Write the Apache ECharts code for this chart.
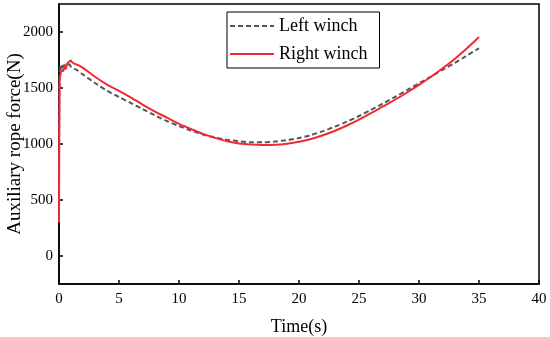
<!DOCTYPE html>
<html><head><meta charset="utf-8">
<script src="https://cdn.jsdelivr.net/npm/echarts@6/dist/echarts.min.js"></script>
<style>html,body{margin:0;padding:0;background:#fff}#c{width:550px;height:337px}</style>
</head><body><div id="c"></div>
<script>
var timeLeft = [0,0.05,0.15,0.25,0.35,0.45,0.55,0.7,0.85,1,1.5,2,3,4,5,6,7,8,9,10,11,12,13,14,15,16,17,18,19,20,21,22,23,24,25,26,27,28,29,30,31,32,33,34,35];
var leftWinch = [500,1600,1705,1680,1720,1690,1710,1700,1712,1690,1660,1620,1545,1475,1420,1365,1310,1255,1205,1160,1120,1085,1058,1038,1024,1016,1015,1022,1035,1053,1080,1115,1155,1200,1250,1305,1362,1420,1480,1542,1602,1665,1725,1790,1855];
var timeRight = [0,0.05,0.15,0.25,0.35,0.45,0.55,0.7,0.85,0.97,1.1,1.3,1.6,2,3,4,5,6,7,8,9,10,11,12,13,14,15,16,17,18,19,20,21,22,23,24,25,26,27,28,29,30,31,32,33,34,35];
var rightWinch = [300,1550,1640,1660,1650,1690,1670,1720,1735,1745,1730,1715,1705,1680,1600,1530,1475,1415,1350,1290,1235,1180,1135,1090,1055,1025,1005,995,991,993,1003,1020,1045,1078,1118,1165,1218,1275,1335,1395,1460,1528,1600,1678,1762,1855,1955];
var xTicks = [0,5,10,15,20,25,30,35,40];
var yTicks = [0,500,1000,1500,2000];
var xTitle = 'Time(s)';
var yTitle = 'Auxiliary rope force(N)';

function pairs(t, v){ return t.map(function(x,i){ return [x, v[i]]; }); }
var font = 'Liberation Serif';
var chart = echarts.init(document.getElementById('c'));
chart.setOption({
  animation: false,
  backgroundColor: '#fff',
  grid: {left: 59, right: 11, top: 4, bottom: 53, show: true, borderColor: '#000', borderWidth: 1.5, containLabel: false, outerBoundsMode: 'none'},
  graphic: [{
    type: 'text', x: 15, y: 144, rotation: Math.PI / 2,
    style: {text: yTitle, fontFamily: font, fontSize: 19, fill: '#000', align: 'center', verticalAlign: 'middle'}
  }],
  legend: {
    orient: 'vertical', left: 227, top: 12,
    borderColor: '#000', borderWidth: 1, padding: [5, 12, 5, 2],
    itemWidth: 44, itemHeight: 12, itemGap: 10,
    itemStyle: {opacity: 0},
    textStyle: {fontFamily: font, fontSize: 18, color: '#000'},
    data: ['Left winch', 'Right winch']
  },
  xAxis: {
    type: 'value', min: 0, max: 40, interval: 5,
    name: xTitle, nameLocation: 'middle', nameGap: 34,
    nameTextStyle: {fontFamily: font, fontSize: 18, color: '#000'},
    axisLine: {show: true, onZero: false, lineStyle: {color: '#000', width: 1.5}},
    axisTick: {show: true, inside: true, length: 4, lineStyle: {color: '#000', width: 1.5}, customValues: xTicks},
    axisLabel: {fontFamily: font, fontSize: 15, color: '#000', margin: 8, customValues: xTicks,
      formatter: function(v){ return String(v); }},
    splitLine: {show: false}
  },
  yAxis: {
    type: 'value', min: -250, max: 2250, interval: 250,
    axisLine: {show: true, onZero: false, lineStyle: {color: '#000', width: 1.5}},
    axisTick: {show: true, inside: true, length: 4, lineStyle: {color: '#000', width: 1.5}, customValues: yTicks},
    axisLabel: {fontFamily: font, fontSize: 15, color: '#000', margin: 6, customValues: yTicks,
      formatter: function(v){ return String(v); }},
    splitLine: {show: false}
  },
  series: [
    {name: 'Left winch', type: 'line', data: pairs(timeLeft, leftWinch), symbol: 'none', smooth: 0.3,
      lineStyle: {color: '#555', width: 2, type: [5, 3]}, itemStyle: {color: '#555'}, z: 2},
    {name: 'Right winch', type: 'line', data: pairs(timeRight, rightWinch), symbol: 'none', smooth: 0.3,
      lineStyle: {color: '#f02a35', width: 2}, itemStyle: {color: '#f02a35'}, z: 3}
  ]
});
</script></body></html>
